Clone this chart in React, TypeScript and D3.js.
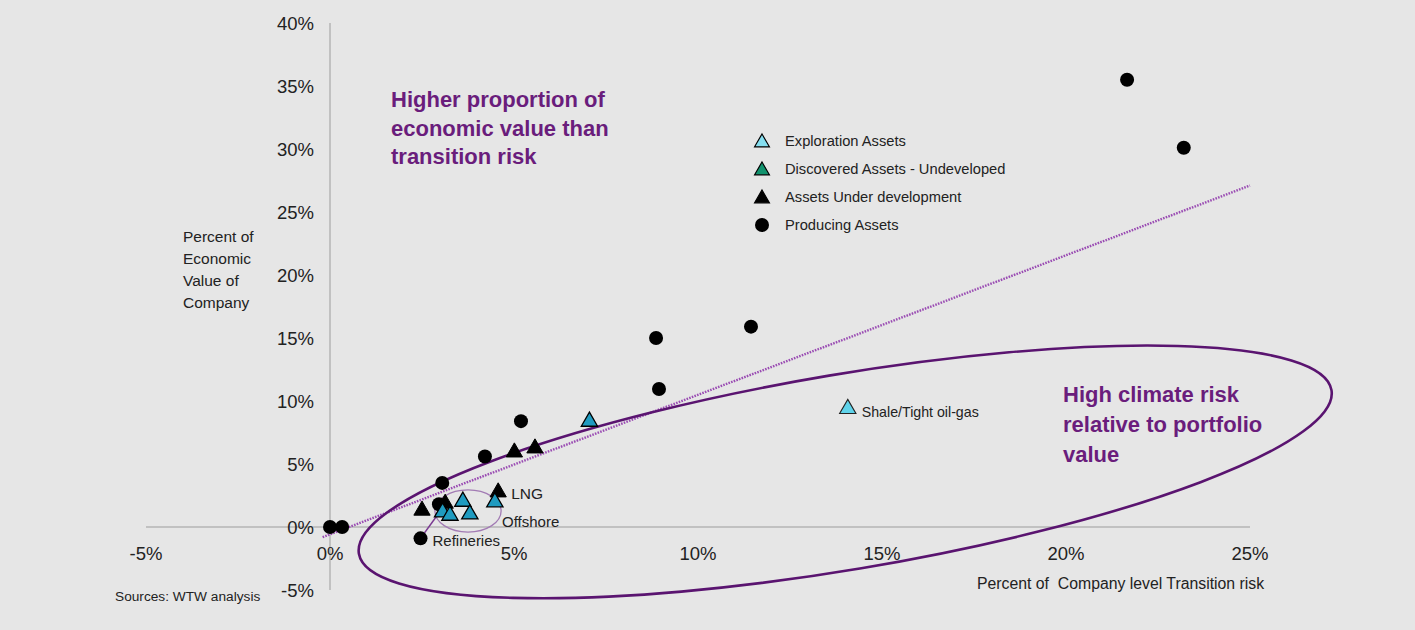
import React from "react";
import * as d3 from "d3";

const xTicks = [-5, 0, 5, 10, 15, 20, 25];
const yTicks = [-5, 0, 5, 10, 15, 20, 25, 30, 35, 40];

const producingX = [0, 0.33, 21.66, 23.2, 11.44, 8.86, 8.94, 5.19, 4.21, 3.05, 2.96, 2.46];
const producingY = [0, 0, 35.5, 30.1, 15.9, 15.0, 10.95, 8.4, 5.6, 3.5, 1.8, -0.9];

const developmentX = [5.01, 5.57, 2.5, 3.13, 4.57];
const developmentY = [6.05, 6.37, 1.43, 1.98, 2.88];

const discoveredX = [3.06, 3.26, 3.61, 3.8, 4.48, 7.05];
const discoveredY = [1.29, 1.03, 2.14, 1.13, 2.09, 8.49];

const explorationX = [14.07];
const explorationY = [9.5];

const legendItems = [
  "Exploration Assets",
  "Discovered Assets - Undeveloped",
  "Assets Under development",
  "Producing Assets",
];

const trendX = [-0.2, 25];
const trendY = [-0.8, 27.1];

const FONT = "'Liberation Sans', Arial, Helvetica, sans-serif";
const PURPLE = "#6a1d7c";

export default function App() {
  const W = 1415;
  const H = 630;
  const x = d3.scaleLinear().domain([-5, 25]).range([146, 1250]);
  const y = d3.scaleLinear().domain([-5, 40]).range([590, 23]);

  const tri = d3.symbol().type(d3.symbolTriangle).size(115)() as string;
  const triLegend = d3.symbol().type(d3.symbolTriangle).size(95)() as string;

  const pct = (v: number) => `${v}%`;

  const bigC = [14.0, 4.37];
  const smallC = [3.75, 1.27];

  const trendPath = d3.line<number>()
    .x((_, i) => x(trendX[i]))
    .y((_, i) => y(trendY[i]))(trendX) as string;

  const refIdx = producingX.length - 1;

  return (
    <svg
      width={W}
      height={H}
      style={{ position: "absolute", left: 0, top: 0, background: "#e6e6e6" }}
      fontFamily={FONT}
    >
      <rect x={0} y={0} width={W} height={H} fill="#e6e6e6" />

      {/* axes */}
      <line x1={x(-5)} x2={x(25)} y1={y(0)} y2={y(0)} stroke="#b4b4b4" strokeWidth={1.5} />
      <line x1={x(0)} x2={x(0)} y1={y(40)} y2={y(-5)} stroke="#b4b4b4" strokeWidth={1.5} />

      {yTicks.map((t) => (
        <text key={"y" + t} x={314} y={y(t)} textAnchor="end" dominantBaseline="central" fontSize={18.5} fill="#222">
          {pct(t)}
        </text>
      ))}
      {xTicks.map((t) => (
        <text key={"x" + t} x={x(t)} y={553} textAnchor="middle" dominantBaseline="central" fontSize={18.5} fill="#222">
          {pct(t)}
        </text>
      ))}

      {/* axis titles */}
      <text x={183} y={242} fontSize={15.5} fill="#222">
        {["Percent of", "Economic", "Value of", "Company"].map((l, i) => (
          <tspan key={l} x={183} dy={i === 0 ? 0 : 22}>{l}</tspan>
        ))}
      </text>
      <text x={977} y={589} fontSize={15.8} fill="#222" xmlSpace="preserve">
        Percent of  Company level Transition risk
      </text>
      <text x={115} y={601} fontSize={13.7} fill="#222">Sources: WTW analysis</text>

      {/* trend line */}
      <path d={trendPath} fill="none" stroke="#9a4cb3" strokeWidth={2.4} strokeDasharray="1.6 1.2" />

      {/* big ellipse */}
      <ellipse
        cx={x(bigC[0])}
        cy={y(bigC[1])}
        rx={x(13.4) - x(0)}
        ry={y(0) - y(7.75)}
        fill="none"
        stroke="#5a1470"
        strokeWidth={2.6}
        transform={`rotate(-9.55 ${x(bigC[0])} ${y(bigC[1])})`}
      />

      {/* small ellipse */}
      <ellipse
        cx={x(smallC[0])}
        cy={y(smallC[1])}
        rx={x(0.9) - x(0)}
        ry={y(0) - y(1.67)}
        fill="none"
        stroke="#a27bb4"
        strokeWidth={1.3}
      />

      {/* refineries leader */}
      <line
        x1={x(producingX[refIdx])}
        y1={y(producingY[refIdx])}
        x2={x(2.92)}
        y2={y(0.95)}
        stroke="#7a3a92"
        strokeWidth={1.5}
      />

      {/* producing */}
      {producingX.map((v, i) => (
        <circle key={"p" + i} cx={x(v)} cy={y(producingY[i])} r={7} fill="#000" />
      ))}
      {/* under development */}
      {developmentX.map((v, i) => (
        <path key={"d" + i} d={tri} transform={`translate(${x(v)},${y(developmentY[i]) + 1.5})`} fill="#000" stroke="#000" strokeWidth={1} />
      ))}
      {/* discovered */}
      {discoveredX.map((v, i) => (
        <path key={"u" + i} d={tri} transform={`translate(${x(v)},${y(discoveredY[i]) + 1.5})`} fill="#1f9bc0" stroke="#000" strokeWidth={1.3} />
      ))}
      {/* exploration */}
      {explorationX.map((v, i) => (
        <path key={"e" + i} d={tri} transform={`translate(${x(v)},${y(explorationY[i]) + 1.5})`} fill="#5fd3ea" stroke="#222" strokeWidth={1.1} />
      ))}

      {/* point labels */}
      <text x={x(developmentX[4]) + 13} y={y(developmentY[4]) + 8} fontSize={15.5} fill="#222">LNG</text>
      <text x={502} y={527} fontSize={15} fill="#222">Offshore</text>
      <text x={x(producingX[refIdx]) + 12} y={y(producingY[refIdx]) + 8} fontSize={15} fill="#222">Refineries</text>
      <text x={x(explorationX[0]) + 14} y={y(explorationY[0]) + 10} fontSize={14.2} fill="#222">Shale/Tight oil-gas</text>

      {/* legend */}
      {legendItems.map((label, i) => {
        const ly = 141 + i * 28;
        let marker;
        if (i === 3) marker = <circle cx={762} cy={ly} r={7} fill="#000" />;
        else
          marker = (
            <path
              d={triLegend}
              transform={`translate(762,${ly + 1.5})`}
              fill={i === 0 ? "#86dff0" : i === 1 ? "#12936e" : "#000"}
              stroke="#000"
              strokeWidth={1.2}
            />
          );
        return (
          <g key={label}>
            {marker}
            <text x={785} y={ly} dominantBaseline="central" fontSize={14.7} fill="#222">{label}</text>
          </g>
        );
      })}

      {/* annotations */}
      <text x={391} y={107} fontSize={22} fontWeight="bold" fill={PURPLE}>
        {["Higher proportion of", "economic value than", "transition risk"].map((l, i) => (
          <tspan key={l} x={391} dy={i === 0 ? 0 : 28.5}>{l}</tspan>
        ))}
      </text>
      <text x={1063} y={402} fontSize={22} fontWeight="bold" fill={PURPLE}>
        {["High climate risk", "relative to portfolio", "value"].map((l, i) => (
          <tspan key={l} x={1063} dy={i === 0 ? 0 : 30}>{l}</tspan>
        ))}
      </text>
    </svg>
  );
}
